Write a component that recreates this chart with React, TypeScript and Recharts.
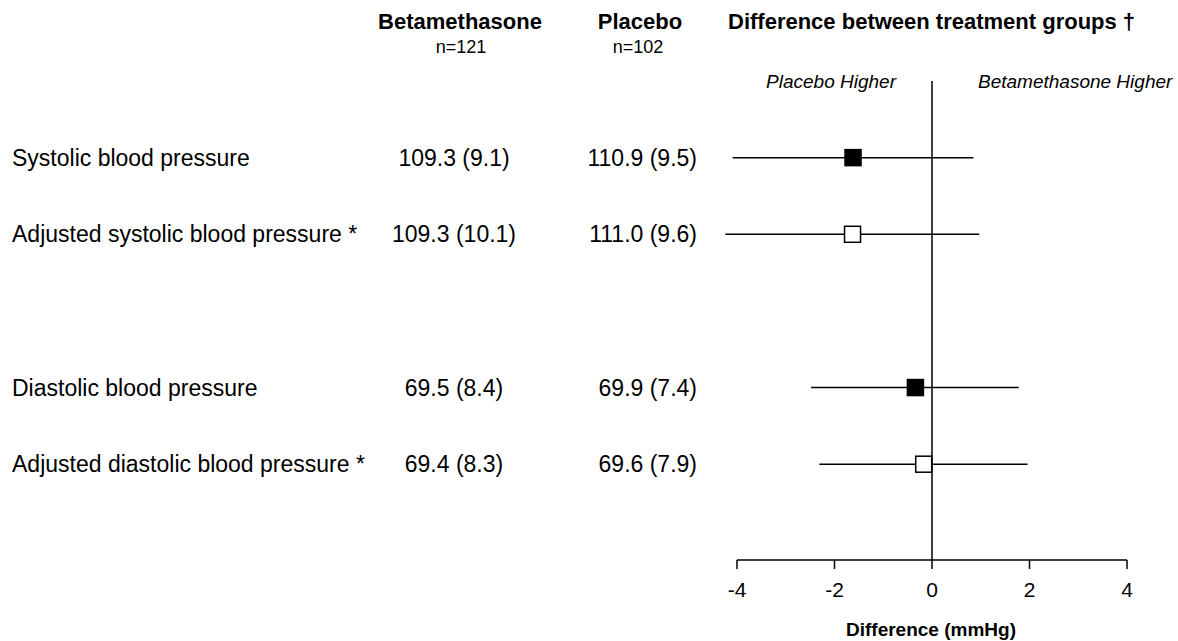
import React from "react";
import { ScatterChart, Scatter, XAxis, YAxis, ErrorBar, ReferenceLine } from "recharts";

const rowLabels = [
  "Systolic blood pressure",
  "Adjusted systolic blood pressure *",
  "Diastolic blood pressure",
  "Adjusted diastolic blood pressure *",
];
const betaValues = ["109.3 (9.1)", "109.3 (10.1)", "69.5 (8.4)", "69.4 (8.3)"];
const placeboValues = ["110.9 (9.5)", "111.0 (9.6)", "69.9 (7.4)", "69.6 (7.9)"];
const rowPositions = [1, 2, 4, 5];
const differences = [-1.62, -1.63, -0.34, -0.17];
const ciLower = [-4.09, -4.24, -2.48, -2.31];
const ciUpper = [0.85, 0.97, 1.78, 1.96];
const adjusted = [false, true, false, true];
const xTicks = [-4, -2, 0, 2, 4];

const data = rowPositions.map((pos, i) => ({
  row: pos,
  diff: differences[i],
  ci: [differences[i] - ciLower[i], ciUpper[i] - differences[i]],
  adjusted: adjusted[i],
}));

const FONT = '"Liberation Sans", Arial, sans-serif';

function RowTick(props: any) {
  const { y, payload } = props;
  const i = rowPositions.indexOf(payload.value);
  if (i < 0) return null;
  return (
    <g fontFamily={FONT} fontSize={23} fill="#000">
      <text x={12} y={y + 8} textAnchor="start">{rowLabels[i]}</text>
      <text x={454} y={y + 8} textAnchor="middle">{betaValues[i]}</text>
      <text x={697} y={y + 8} textAnchor="end">{placeboValues[i]}</text>
    </g>
  );
}

function SquareShape(props: any) {
  const { cx, cy, payload } = props;
  if (cx == null || cy == null) return null;
  return (
    <rect
      x={cx - 8}
      y={cy - 8}
      width={16}
      height={16}
      fill={payload && payload.adjusted ? "#fff" : "#000"}
      stroke="#000"
      strokeWidth={1.5}
    />
  );
}

export default function App() {
  return (
    <div style={{ position: "relative", width: 1178, height: 641, background: "#fff" }}>
      <style>{"body{margin:0;background:#fff}"}</style>
      <ScatterChart width={1178} height={641} margin={{ top: 81, right: 51, bottom: 0, left: 0 }}>
        <XAxis
          type="number"
          dataKey="diff"
          domain={[-4, 4]}
          ticks={xTicks}
          interval={0}
          allowDataOverflow
          height={81}
          axisLine={{ stroke: "#000", strokeWidth: 1.5 }}
          tickLine={{ stroke: "#000", strokeWidth: 1.5 }}
          tickSize={9}
          tickMargin={13}
          tick={{ fill: "#000", fontSize: 21, fontFamily: FONT }}
        />
        <YAxis
          type="number"
          dataKey="row"
          domain={[0, 6.25]}
          reversed
          ticks={rowPositions}
          interval={0}
          width={737}
          axisLine={false}
          tickLine={false}
          tick={<RowTick />}
        />
        <ReferenceLine x={0} stroke="#000" strokeWidth={1.5} />
        <Scatter data={data} isAnimationActive={false} shape={SquareShape}>
          <ErrorBar dataKey="ci" direction="x" width={0} stroke="#000" strokeWidth={1.5} isAnimationActive={false} />
        </Scatter>
      </ScatterChart>
      <svg
        width={1178}
        height={641}
        style={{ position: "absolute", left: 0, top: 0, pointerEvents: "none" }}
        fontFamily={FONT}
      >
        <text x={460} y={29} textAnchor="middle" fontWeight="bold" fontSize={22}>Betamethasone</text>
        <text x={461} y={53} textAnchor="middle" fontSize={18}>n=121</text>
        <text x={640} y={29} textAnchor="middle" fontWeight="bold" fontSize={22}>Placebo</text>
        <text x={638} y={53} textAnchor="middle" fontSize={18}>n=102</text>
        <text x={728} y={29} textAnchor="start" fontWeight="bold" fontSize={22}>Difference between treatment groups †</text>
        <text x={896} y={88} textAnchor="end" fontStyle="italic" fontSize={19}>Placebo Higher</text>
        <text x={978} y={88} textAnchor="start" fontStyle="italic" fontSize={19}>Betamethasone Higher</text>
        <text x={931} y={636} textAnchor="middle" fontWeight="bold" fontSize={19}>Difference (mmHg)</text>
      </svg>
    </div>
  );
}
